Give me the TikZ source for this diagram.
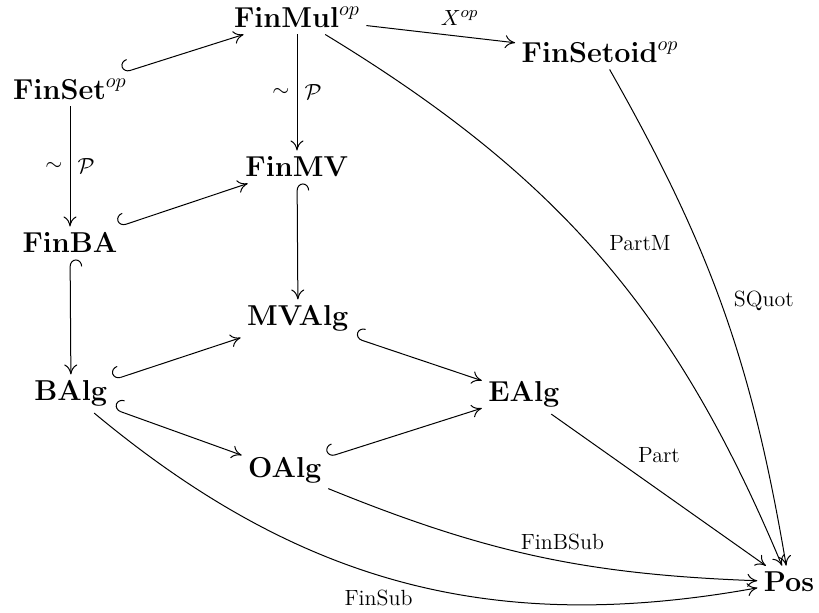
\documentclass[tikz,border=0pt]{standalone}
\usepackage{amsmath}
\usetikzlibrary{arrows.meta}
\begin{document}
\begin{tikzpicture}[x=0.5pt,y=-0.5pt,line width=0.5pt,
  >={Computer Modern Rightarrow[length=5pt,width=6.5pt]},
  cat/.style={font=\Large,inner sep=3pt,anchor=base},
  incl/.style={{Hooks[right,length=3.5pt,width=12pt]}->},
  lbl/.style={auto,inner sep=3.5pt,font=\fontsize{11}{13}\selectfont}]
\useasboundingbox (0,0) rectangle (819,613);
% objects
\node[cat] (finmul) at (297,28) {$\mathbf{FinMul}^{op}$};
\node[cat] (finsetoid) at (600,63) {$\mathbf{FinSetoid}^{op}$};
\node[cat] (finset) at (70,100) {$\mathbf{FinSet}^{op}$};
\node[cat] (finmv) at (297,177) {$\mathbf{FinMV}$};
\node[cat] (finba) at (70,253) {$\mathbf{FinBA}$};
\node[cat] (mvalg) at (298,326) {$\mathbf{MVAlg}$};
\node[cat] (balg) at (71,401) {$\mathbf{BAlg}$};
\node[cat] (ealg) at (524,402) {$\mathbf{EAlg}$};
\node[cat] (oalg) at (285,478) {$\mathbf{OAlg}$};
\node[cat] (posets) at (789,592) {$\mathbf{Pos}$};
% inclusions
\foreach \a/\b in {finset/finmul,finba/finmv,finmv/mvalg,finba/balg,
  balg/mvalg,balg/oalg,mvalg/ealg,oalg/ealg}
  {\draw[incl] (\a) -- (\b);}
% functors
\draw[->] (finmul) -- node[lbl,pos=0.45] {$X^{op}$} (finsetoid);
\draw[->] (finmul) -- node[lbl] {$\mathcal{P}$} node[lbl,swap] {$\sim$} (finmv);
\draw[->] (finset) -- node[lbl] {$\mathcal{P}$} node[lbl,swap] {$\sim$} (finba);
\draw[->] (ealg) -- node[lbl,pos=0.37] {Part} (posets);
\draw[->] (oalg) to[bend right=10] node[lbl,pos=0.45,inner sep=1pt] {FinBSub} (posets);
\draw[->] (balg) to[bend right=25] node[lbl,swap,pos=0.52,inner sep=2pt] {FinSub} (posets);
\draw[->] (finmul) to[bend left=18] node[lbl,pos=0.5] {PartM} (posets);
\draw[->] (finsetoid) to[bend left=10] node[lbl,pos=0.52] {SQuot} (posets);
\end{tikzpicture}
\end{document}
